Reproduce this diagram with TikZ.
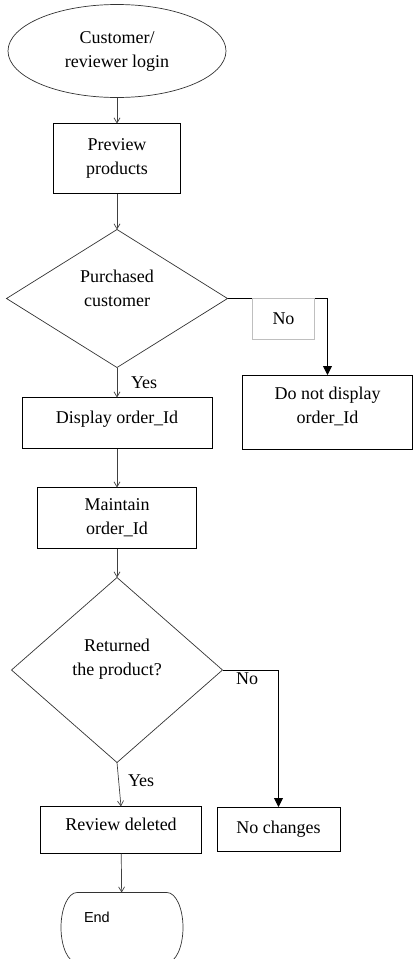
\documentclass[tikz,border=0pt]{standalone}
\usepackage{fontspec}
\setmainfont{Liberation Serif}
\newfontfamily\endfont{Liberation Sans}
\usetikzlibrary{arrows.meta, positioning, shapes.geometric}

\begin{document}
\begin{tikzpicture}[
    x=1pt, y=-1pt,
    font=\fontsize{18}{24}\selectfont,
    every node/.style={inner sep=0pt, outer sep=0pt},
    stepbox/.style={rectangle, draw, line width=0.8pt, align=center},
    decision/.style={diamond, draw=black!80, line width=0.7pt, align=center},
    arrow/.style={-{Straight Barb[length=5pt, width=6pt]}, line width=0.7pt, draw=black!75, text=black},
    noarrow/.style={-{Triangle[length=9pt, width=9pt]}, line width=0.9pt},
    endline/.style={draw=black!80, line width=0.7pt},
]
\useasboundingbox (0,0) rectangle (414,959);

    % Main flow
    \node[ellipse, draw=black!80, line width=0.7pt, minimum width=218pt, minimum height=93pt, align=center] (login) at (117,51) {Customer/\\reviewer login};
    \node[stepbox, below=26pt of login, minimum width=127pt, minimum height=70pt] (preview) {Preview\\products};
    \node[decision, below=36pt of preview, minimum width=221pt, minimum height=138pt, text depth=20pt] (purchased) {Purchased\\customer};
    \node[stepbox, below=30pt of purchased, minimum width=190pt, minimum height=51pt, text depth=12pt] (display) {Display order\_Id};
    \node[stepbox, below=39pt of display, minimum width=159pt, minimum height=61pt] (maintain) {Maintain\\order\_Id};
    \node[decision, below=29pt of maintain, minimum width=211pt, minimum height=185pt, text depth=25pt] (returned) {Returned\\the product?};
    \node[stepbox, below=44pt of returned, xshift=4pt, minimum width=161pt, minimum height=47pt, text depth=12pt] (review) {Review deleted};
    \node[below=39pt of review, xshift=1pt, minimum width=122pt, minimum height=70pt] (endnode) {};
    \node[font=\endfont\fontsize{14.5}{17}\selectfont, anchor=west] (endlabel) at ([shift={(23pt,-25pt)}]endnode.north west) {End};

    % Terminator outline
    \draw[endline] ([xshift=16pt]endnode.north west) -- ([xshift=-16pt]endnode.north east)
        arc[start angle=90, end angle=-90, x radius=16pt, y radius=35pt]
        -- ([xshift=16pt]endnode.south west)
        arc[start angle=270, end angle=90, x radius=16pt, y radius=35pt] -- cycle;

    % Side branches
    \node[stepbox, minimum width=170pt, minimum height=74pt, text depth=14pt] (nodisplay) at (327.5,412) {Do not display\\order\_Id};
    \node[stepbox, minimum width=123pt, minimum height=44pt] (nochange) at (278.5,829) {No changes};

    % Arrows
    \draw[arrow] (login) -- (preview);
    \draw[arrow] (preview) -- (purchased);
    \draw[arrow] (purchased) -- (display) node[midway, right=14pt] {Yes};
    \draw[arrow] (display) -- (maintain);
    \draw[arrow] (maintain) -- (returned);
    \draw[arrow] (returned.south) -- (review.north) node[midway, right=9pt, yshift=4pt] {Yes};
    \draw[arrow] (review) -- (endnode);
    \draw[noarrow] (purchased.east) -| (nodisplay.north)
        node[pos=0.28, below, draw=black!25, line width=0.5pt, minimum width=62pt, minimum height=41pt] (nolabel) {No};
    \draw[noarrow] (returned.east) -| (nochange.north) node[pos=0.22, below=3pt] (nolabelb) {No};
\end{tikzpicture}
\end{document}
